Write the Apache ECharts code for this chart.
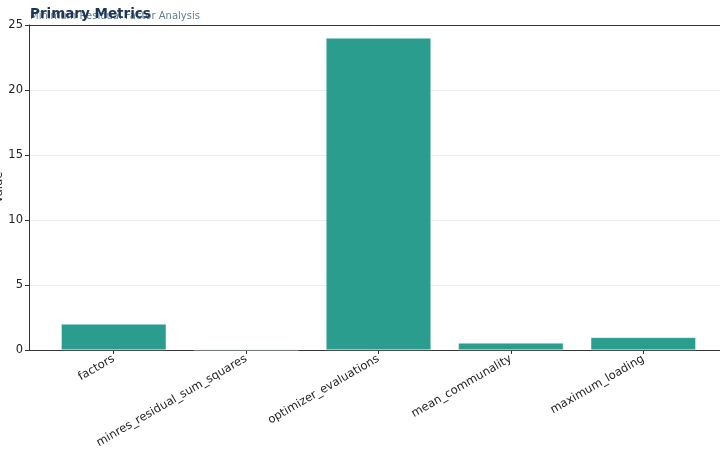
<!DOCTYPE html>
<html><head><meta charset="utf-8">
<script src="https://cdn.jsdelivr.net/npm/echarts@6/dist/echarts.min.js"></script>
<style>html,body{margin:0;padding:0;background:#fff}#c{width:720px;height:460px}</style>
</head><body><div id="c"></div>
<script>
const categories = ["factors","minres_residual_sum_squares","optimizer_evaluations","mean_communality","maximum_loading"];
const values = [2, 0.01, 24, 0.54, 0.97];
const yTicks = [0, 5, 10, 15, 20, 25];
const titleText = "Primary Metrics";
const subtitleText = "Minimum Residual Factor Analysis";

const chart = echarts.init(document.getElementById('c'), null, {renderer:'canvas'});
const font = "DejaVu Sans";
const idx = categories.map((_, i) => i);
chart.setOption({
  animation: false,
  textStyle: {fontFamily: font},
  title: [
    {text: subtitleText, left: 30, top: 11.5, padding: 0, textStyle: {fontSize: 10, fontWeight: 'normal', color: '#5f7d93', fontFamily: font}},
    {text: titleText, left: 30, top: 7, padding: 0, textStyle: {fontSize: 13.5, fontWeight: 'bold', color: '#1d3557', fontFamily: font}}
  ],
  grid: {left: 29, right: -8, top: 25, bottom: 110, containLabel: false, outerBoundsMode: 'none'},
  xAxis: [{
    type: 'value', min: -0.64, max: 4.64,
    axisLine: {show: true, onZero: false, lineStyle: {color: '#333', width: 1}},
    axisTick: {show: true, customValues: idx, length: 4, lineStyle: {color: '#333'}},
    axisLabel: {show: true, customValues: idx, rotate: 30, fontSize: 11.5, color: '#222', margin: 8,
      formatter: v => categories[Math.round(v)]},
    splitLine: {show: false}
  }, {
    type: 'value', min: -0.64, max: 4.64, position: 'top',
    axisLine: {show: true, onZero: false, lineStyle: {color: '#333', width: 1}},
    axisTick: {show: false}, axisLabel: {show: false}, splitLine: {show: false}
  }],
  yAxis: {
    type: 'value', min: 0, max: 25, interval: 5,
    name: 'Value', nameLocation: 'middle', nameGap: 24, nameMoveOverlap: false,
    nameTextStyle: {fontSize: 11.5, color: '#222'},
    axisLine: {show: true, onZero: false, lineStyle: {color: '#333', width: 1}},
    axisTick: {show: true, length: 4, lineStyle: {color: '#333'}},
    axisLabel: {fontSize: 11.5, color: '#222', margin: 6,
      customValues: yTicks},
    splitLine: {show: true, lineStyle: {color: '#ececec', width: 1}}
  },
  series: [{
    type: 'bar',
    data: values.map((v, i) => [i, v]),
    barWidth: 105,
    itemStyle: {color: '#2a9d8f', borderColor: '#e6f4f2', borderWidth: 0.5}
  }]
});
</script></body></html>
